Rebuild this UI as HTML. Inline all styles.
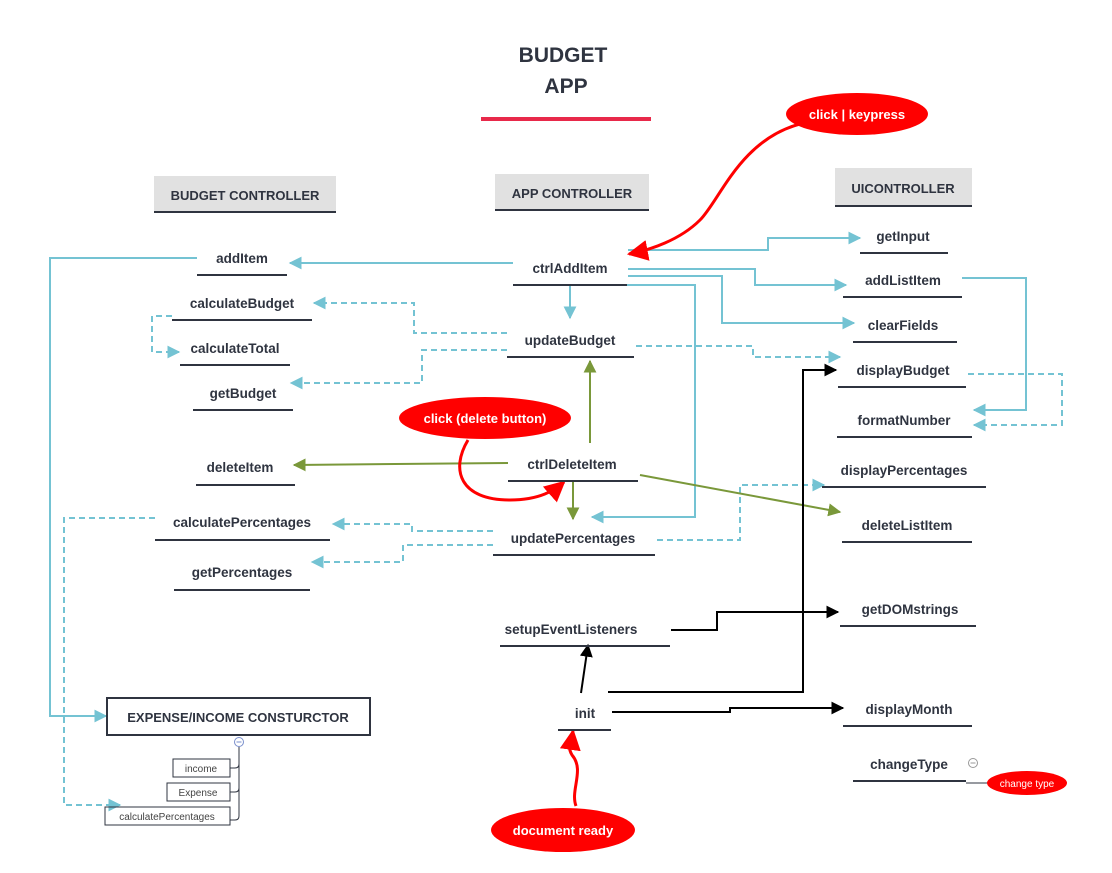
<!DOCTYPE html>
<html><head><meta charset="utf-8"><style>
html,body{margin:0;padding:0;background:#fff;}
svg text{font-family:"Liberation Sans",sans-serif;font-weight:bold;fill:#2f3440;}
</style></head><body>
<svg width="1112" height="868" viewBox="0 0 1112 868" xmlns="http://www.w3.org/2000/svg">
<defs>
<marker id="at" viewBox="0 0 10 10" refX="9" refY="5" markerWidth="6.5" markerHeight="6.5" orient="auto"><path d="M0,0L10,5L0,10z" fill="#74c3d3"/></marker>
<marker id="ag" viewBox="0 0 10 10" refX="9" refY="5" markerWidth="6.5" markerHeight="6.5" orient="auto"><path d="M0,0L10,5L0,10z" fill="#7a983a"/></marker>
<marker id="ak" viewBox="0 0 10 10" refX="9" refY="5" markerWidth="6.5" markerHeight="6.5" orient="auto"><path d="M0,0L10,5L0,10z" fill="#000"/></marker>
<marker id="ar" viewBox="0 0 10 10" refX="9" refY="5" markerWidth="7" markerHeight="7" orient="auto"><path d="M0,0L10,5L0,10z" fill="#f00"/></marker>
</defs>
<rect width="1112" height="868" fill="#fff"/>
<text x="563" y="62" font-size="21" text-anchor="middle">BUDGET</text>
<text x="566" y="93" font-size="21" text-anchor="middle">APP</text>
<rect x="481" y="117" width="170" height="4" fill="#e8294a"/>
<rect x="154" y="176" width="182" height="36" fill="#e1e1e1"/><line x1="154" y1="212" x2="336" y2="212" stroke="#2f3440" stroke-width="2"/>
<text x="245" y="200" font-size="13" text-anchor="middle">BUDGET CONTROLLER</text>
<rect x="495" y="174" width="154" height="36" fill="#e1e1e1"/><line x1="495" y1="210" x2="649" y2="210" stroke="#2f3440" stroke-width="2"/>
<text x="572" y="198" font-size="13" text-anchor="middle">APP CONTROLLER</text>
<rect x="835" y="168" width="137" height="38" fill="#e1e1e1"/><line x1="835" y1="206" x2="972" y2="206" stroke="#2f3440" stroke-width="2"/>
<text x="903" y="193" font-size="13" text-anchor="middle">UICONTROLLER</text>

<g fill="none" stroke="#74c3d3" stroke-width="2">
<path d="M513,263H290" marker-end="url(#at)"/>
<path d="M197,258H50V716H106" marker-end="url(#at)"/>
<path d="M628,250H768V238H860" marker-end="url(#at)"/>
<path d="M628,269H755V285H846" marker-end="url(#at)"/>
<path d="M628,276H722V323H854" marker-end="url(#at)"/>
<path d="M570,286V318" marker-end="url(#at)"/>
<path d="M595,285H695V517H592" marker-end="url(#at)"/>
<path d="M962,278H1026V410H974" marker-end="url(#at)"/>
</g>
<g fill="none" stroke="#74c3d3" stroke-width="2" stroke-dasharray="6,4">
<path d="M507,333H414V303H314" marker-end="url(#at)"/>
<path d="M507,350H422V383H291" marker-end="url(#at)"/>
<path d="M172,316H152V352H179" marker-end="url(#at)"/>
<path d="M636,346H753V357H840" marker-end="url(#at)"/>
<path d="M968,374H1062V425H974" marker-end="url(#at)"/>
<path d="M493,531H412V524H333" marker-end="url(#at)"/>
<path d="M493,545H403V562H312" marker-end="url(#at)"/>
<path d="M657,540H740V485H824" marker-end="url(#at)"/>
<path d="M155,518H64V805H120" marker-end="url(#at)"/>
</g>
<g fill="none" stroke="#7a983a" stroke-width="2">
<path d="M508,463L294,465" marker-end="url(#ag)"/>
<path d="M590,443V361" marker-end="url(#ag)"/>
<path d="M573,482V519" marker-end="url(#ag)"/>
<path d="M640,475L840,512" marker-end="url(#ag)"/>
</g>
<g fill="none" stroke="#000" stroke-width="2">
<path d="M671,630H717V612H838" marker-end="url(#ak)"/>
<path d="M581,693L588,645" marker-end="url(#ak)"/>
<path d="M608,692H803V370H836" marker-end="url(#ak)"/>
<path d="M612,712H730V708H843" marker-end="url(#ak)"/>
</g>
<g fill="none" stroke="#f00" stroke-width="3">
<path d="M800,124C740,140 720,200 700,220C680,240 650,250 629,254" marker-end="url(#ar)"/>
<path d="M468,440C450,470 460,500 510,500C540,500 555,490 564,482" marker-end="url(#ar)"/>
<path d="M576,806C570,790 585,770 572,755C566,745 572,738 573,731" marker-end="url(#ar)"/>
</g>

<g font-size="13" stroke="#2f3440" stroke-width="2">
<line x1="197" y1="275" x2="287" y2="275"/>
<line x1="172" y1="320" x2="312" y2="320"/>
<line x1="180" y1="365" x2="290" y2="365"/>
<line x1="193" y1="410" x2="293" y2="410"/>
<line x1="196" y1="485" x2="295" y2="485"/>
<line x1="155" y1="540" x2="330" y2="540"/>
<line x1="174" y1="590" x2="310" y2="590"/>
<line x1="513" y1="285" x2="627" y2="285"/>
<line x1="507" y1="357" x2="634" y2="357"/>
<line x1="508" y1="481" x2="638" y2="481"/>
<line x1="493" y1="555" x2="655" y2="555"/>
<line x1="500" y1="646" x2="670" y2="646"/>
<line x1="558" y1="730" x2="611" y2="730"/>
<line x1="860" y1="253" x2="948" y2="253"/>
<line x1="843" y1="297" x2="962" y2="297"/>
<line x1="853" y1="342" x2="957" y2="342"/>
<line x1="838" y1="387" x2="966" y2="387"/>
<line x1="837" y1="437" x2="972" y2="437"/>
<line x1="822" y1="487" x2="986" y2="487"/>
<line x1="842" y1="542" x2="972" y2="542"/>
<line x1="840" y1="626" x2="976" y2="626"/>
<line x1="843" y1="726" x2="972" y2="726"/>
<line x1="853" y1="781" x2="966" y2="781"/>
</g>
<g font-size="13.5" text-anchor="middle">
<text x="242" y="263">addItem</text>
<text x="242" y="308">calculateBudget</text>
<text x="235" y="353">calculateTotal</text>
<text x="243" y="398">getBudget</text>
<text x="240" y="472">deleteItem</text>
<text x="242" y="527">calculatePercentages</text>
<text x="242" y="577">getPercentages</text>
<text x="570" y="273">ctrlAddItem</text>
<text x="570" y="345">updateBudget</text>
<text x="572" y="469">ctrlDeleteItem</text>
<text x="573" y="543">updatePercentages</text>
<text x="571" y="634">setupEventListeners</text>
<text x="585" y="718">init</text>
<text x="903" y="241">getInput</text>
<text x="903" y="285">addListItem</text>
<text x="903" y="330">clearFields</text>
<text x="903" y="375">displayBudget</text>
<text x="904" y="425">formatNumber</text>
<text x="904" y="475">displayPercentages</text>
<text x="907" y="530">deleteListItem</text>
<text x="910" y="614">getDOMstrings</text>
<text x="909" y="714">displayMonth</text>
<text x="909" y="769">changeType</text>
</g>

<rect x="107" y="698" width="263" height="37" fill="#fff" stroke="#2f3440" stroke-width="2"/>
<text x="238" y="722" font-size="13" text-anchor="middle">EXPENSE/INCOME CONSTURCTOR</text>
<g fill="none" stroke="#2f3440" stroke-width="1">
<path d="M239,747V816Q239,820 235,820H230"/>
<path d="M230,768H235Q239,768 239,764"/>
<path d="M230,792H235Q239,792 239,788"/>
<rect x="173" y="759" width="57" height="18"/>
<rect x="167" y="783" width="63" height="18"/>
<rect x="105" y="807" width="125" height="18"/>
</g>
<circle cx="239" cy="742" r="4.5" fill="#fff" stroke="#7a8fcc"/><line x1="236.5" y1="742" x2="241.5" y2="742" stroke="#7a8fcc"/>
<g font-size="10" text-anchor="middle">
<text x="201" y="772" style="font-weight:normal;fill:#444">income</text>
<text x="198" y="796" style="font-weight:normal;fill:#444">Expense</text>
<text x="167" y="820" style="font-weight:normal;fill:#444">calculatePercentages</text>
</g>

<ellipse cx="857" cy="114" rx="71" ry="21" fill="#f00"/>
<text x="857" y="119" font-size="13" text-anchor="middle" style="fill:#fff">click | keypress</text>
<ellipse cx="485" cy="418" rx="86" ry="21" fill="#f00"/>
<text x="485" y="423" font-size="13" text-anchor="middle" style="fill:#fff">click (delete button)</text>
<ellipse cx="563" cy="830" rx="72" ry="22" fill="#f00"/>
<text x="563" y="835" font-size="13" text-anchor="middle" style="fill:#fff">document ready</text>
<circle cx="973" cy="763" r="4.5" fill="#fff" stroke="#999"/><line x1="970.5" y1="763" x2="975.5" y2="763" stroke="#999"/>
<line x1="966" y1="783" x2="990" y2="783" stroke="#2f3440"/>
<ellipse cx="1027" cy="783" rx="40" ry="12" fill="#f00"/>
<text x="1027" y="787" font-size="10" text-anchor="middle" style="fill:#fff;font-weight:normal">change type</text>
</svg>
</body></html>
